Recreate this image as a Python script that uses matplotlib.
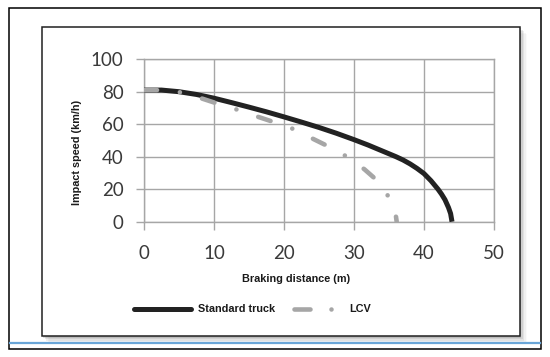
import matplotlib
matplotlib.use("Agg")
import matplotlib.pyplot as plt
from matplotlib.patches import Rectangle
from matplotlib.lines import Line2D

# Standard truck curve (braking distance m, impact speed km/h)
truck_dist = [0, 2.5, 5, 7.5, 10, 12.5, 15, 17.5, 20, 22.5, 25, 27.5, 30, 32, 34, 35, 36,
              37, 38, 39, 40, 41, 42, 42.5, 43, 43.5, 43.8, 44]
truck_speed = [81, 81, 80, 78.3, 76, 73.3, 70.5, 67.6, 64.5, 61.3, 58, 54.4, 50.5, 47.2,
               43.6, 41.8, 40, 38, 35.6, 32.8, 29.6, 25.2, 20, 17, 13.5, 8.7, 5, 0]

# LCV curve
lcv_dist = [0, 3, 5.2, 8.2, 10.7, 13.5, 16.1, 18.7, 21.5, 24, 26.4, 29, 31.5, 33.4, 35, 36, 36.1]
lcv_speed = [81, 81, 79.6, 75.9, 72.4, 68.7, 64.8, 61.1, 56.8, 51.3, 46.2, 40, 32.2, 25, 15, 3, 0]

xticks = [0, 10, 20, 30, 40, 50]
yticks = [0, 20, 40, 60, 80, 100]

W, H = 550, 357
fig = plt.figure(figsize=(W / 100, H / 100), dpi=100)

def fx(px):
    return px / W

def fy(py):
    return 1 - py / H

def rect(x0, y0, x1, y1, **kw):
    r = Rectangle((fx(x0), fy(y1)), fx(x1) - fx(x0), fy(y0) - fy(y1),
                  transform=fig.transFigure, **kw)
    fig.add_artist(r)

# outer frame
rect(9, 7.5, 541, 349, fill=False, edgecolor='black', lw=1.1, zorder=0)
# shadow of inner chart box
for i, a in enumerate([0.25, 0.18, 0.12, 0.07, 0.04]):
    o = 1.5 * (i + 1)
    rect(41.5 + o, 26.5 + o, 519.5 + o, 336 + o, facecolor='gray',
         edgecolor='none', alpha=a, zorder=0)
rect(41.5, 26.5, 519.5, 336, facecolor='white', edgecolor='#202020', lw=1.1, zorder=0.5)
# blue rule at the bottom
fig.add_artist(Line2D([fx(10), fx(540)], [fy(342.5), fy(342.5)], color='#6aa6d8',
                      lw=1.6, transform=fig.transFigure, zorder=0.6))

ax = fig.add_axes([fx(144), fy(221.7), fx(494) - fx(144), fy(59.2) - fy(221.7)])
ax.set_facecolor('none')
ax.set_zorder(2)

grid_c = '#a6a6a6'
ax.plot(truck_dist, truck_speed, color='#222222', lw=3.6, solid_capstyle='butt',
        solid_joinstyle='round', zorder=3)
ax.plot(lcv_dist, lcv_speed, color='#a6a6a6', lw=3.3,
        linestyle=(0, (2.84, 5.02, 0.01, 5.02)), dash_capstyle='round', zorder=4)

ax.set_xlim(0, 50)
ax.set_ylim(0, 100)
ax.set_xticks(xticks)
ax.set_yticks(yticks)
ax.grid(True, color=grid_c, lw=1)
for s in ax.spines.values():
    s.set_color(grid_c)
    s.set_linewidth(1)
ax.tick_params(axis='both', direction='out', length=5.8, width=1, color=grid_c,
               labelcolor='#3a3a3a', labelsize=13.5)
ax.tick_params(axis='y', pad=9)
ax.tick_params(axis='x', pad=11)
for lab in ax.get_xticklabels() + ax.get_yticklabels():
    lab.set_family('Lato')

lab_kw = dict(family='Liberation Sans', weight='bold', fontsize=7.8, color='#1a1a1a')
fig.text(fx(296), fy(278.5), 'Braking distance (m)', ha='center', va='center', **lab_kw)
fig.text(fx(77.5), fy(152), 'Impact speed (km/h)', ha='center', va='center',
         rotation=90, **lab_kw)

# legend
ly = fy(309)
fig.add_artist(Line2D([fx(134), fx(191)], [ly, ly], color='#222222', lw=3.6,
                      solid_capstyle='round', transform=fig.transFigure, zorder=3))
fig.text(fx(197.5), ly, 'Standard truck', ha='left', va='center', **lab_kw)
fig.add_artist(Line2D([fx(294), fx(310)], [ly, ly], color='#a6a6a6', lw=3.3,
                      solid_capstyle='round', transform=fig.transFigure, zorder=3))
fig.add_artist(Line2D([fx(330.7)], [ly], color='#a6a6a6', marker='o', markersize=3.2,
                      markeredgewidth=0, transform=fig.transFigure, zorder=3))
fig.text(fx(349.3), ly, 'LCV', ha='left', va='center', **lab_kw)

fig.savefig('out.png', dpi=100)
